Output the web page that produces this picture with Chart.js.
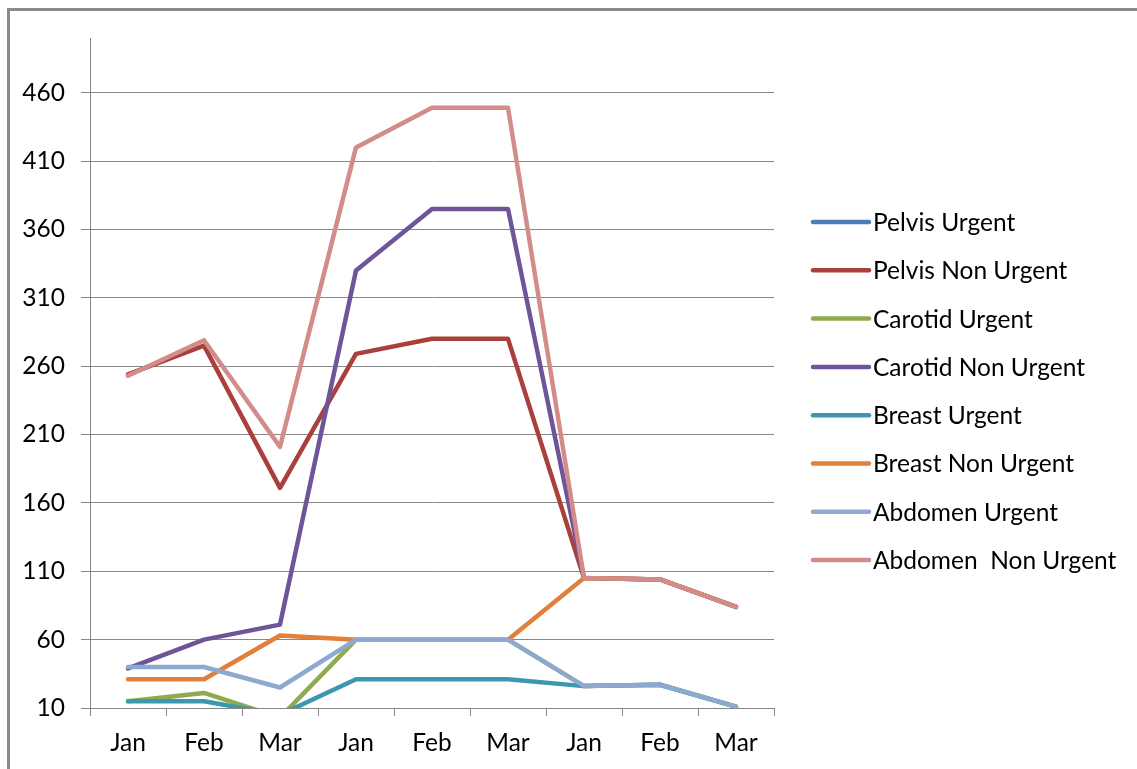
<!DOCTYPE html>
<html>
<head>
<meta charset="utf-8">
<script src="https://cdn.jsdelivr.net/npm/chart.js@4.4.1/dist/chart.umd.min.js"></script>
<style>
  html, body { margin: 0; padding: 0; background: #ffffff; overflow: hidden; }
  #wrap { position: relative; width: 1137px; height: 769px; overflow: hidden; }
  #wrap canvas { position: absolute; left: 0; top: 0; }
  /* outer chart frame: only its top and left edges fall inside the window */
  #frame {
    position: absolute; left: 7px; top: 8px; width: 1300px; height: 900px;
    border-top: 3px solid #8a8a8a; border-left: 3px solid #8a8a8a;
    pointer-events: none;
  }
</style>
</head>
<body>
<div id="wrap">
  <canvas id="chart" width="1137" height="769"></canvas>
  <div id="frame"></div>
</div>
<script>
// Categories along the x axis (three quarters of monthly figures)
const months = ['Jan', 'Feb', 'Mar', 'Jan', 'Feb', 'Mar', 'Jan', 'Feb', 'Mar'];

// Series names
const seriesNames = [
  'Pelvis Urgent',
  'Pelvis Non Urgent',
  'Carotid Urgent',
  'Carotid Non Urgent',
  'Breast Urgent',
  'Breast Non Urgent',
  'Abdomen Urgent',
  'Abdomen  Non Urgent'
];

// Series values
const pelvisUrgent      = [0, 0, 0, 0, 0, 0, 0, 0, 0];
const pelvisNonUrgent   = [254, 275, 171, 269, 280, 280, 105, 104, 84];
const carotidUrgent     = [15, 21, 3, 60, 60, 60, 26, 27, 11];
const carotidNonUrgent  = [39, 60, 71, 330, 375, 375, 105, 104, 84];
const breastUrgent      = [15, 15, 5, 31, 31, 31, 26, 27, 11];
const breastNonUrgent   = [31, 31, 63, 60, 60, 60, 105, 104, 84];
const abdomenUrgent     = [40, 40, 25, 60, 60, 60, 26, 27, 11];
const abdomenNonUrgent  = [253, 279, 201, 420, 449, 449, 105, 104, 84];

// Value axis: range and labelled ticks
const yMin = 10;
const yMax = 500;
const yTickValues = [10, 60, 110, 160, 210, 260, 310, 360, 410, 460];

const seriesValues = [
  pelvisUrgent, pelvisNonUrgent, carotidUrgent, carotidNonUrgent,
  breastUrgent, breastNonUrgent, abdomenUrgent, abdomenNonUrgent
];
const seriesColors = [
  '#4a7ebb', '#a9403c', '#8eab50', '#6e5597',
  '#3d97af', '#e1803a', '#8ea9cf', '#d28c8a'
];

const FONT = 'Lato, "Liberation Sans", sans-serif';
const GRID = '#878787';

// Legend drawn as a column of short line swatches beside the plot
const sideLegend = {
  id: 'sideLegend',
  afterDraw(chart, args, opts) {
    const ctx = chart.ctx;
    ctx.save();
    ctx.font = opts.fontSize + 'px ' + FONT;
    ctx.textBaseline = 'middle';
    ctx.textAlign = 'left';
    chart.data.datasets.forEach((ds, i) => {
      const y = opts.top + i * opts.spacing;
      ctx.strokeStyle = ds.borderColor;
      ctx.lineWidth = opts.lineWidth;
      ctx.lineCap = 'round';
      ctx.beginPath();
      ctx.moveTo(opts.x, y);
      ctx.lineTo(opts.x + opts.swatch, y);
      ctx.stroke();
      ctx.fillStyle = '#000000';
      ctx.fillText(ds.label, opts.x + opts.swatch + opts.gap, y + opts.textShift);
    });
    ctx.restore();
  }
};

const datasets = seriesNames.map((name, i) => ({
  label: name,
  data: seriesValues[i],
  borderColor: seriesColors[i],
  backgroundColor: seriesColors[i],
  borderWidth: 4.5,
  borderJoinStyle: 'round',
  borderCapStyle: 'round',
  pointRadius: 0,
  pointHoverRadius: 0,
  tension: 0,
  fill: false,
  // later series are painted over earlier ones
  order: seriesNames.length - i
}));

new Chart(document.getElementById('chart'), {
  type: 'line',
  data: { labels: months, datasets },
  plugins: [sideLegend],
  options: {
    responsive: false,
    animation: false,
    devicePixelRatio: 1,
    layout: { padding: { top: 38, right: 363, bottom: 0, left: 0 } },
    plugins: {
      legend: { display: false },
      tooltip: { enabled: false },
      sideLegend: {
        x: 813, top: 222, spacing: 48.3, swatch: 56, gap: 4,
        lineWidth: 4.5, fontSize: 24.5, textShift: 1
      }
    },
    scales: {
      x: {
        type: 'category',
        offset: true,
        grid: {
          offset: true,
          drawOnChartArea: false,
          drawTicks: true,
          tickLength: 8,
          color: GRID,
          lineWidth: 1
        },
        border: { display: true, color: GRID, width: 1 },
        ticks: {
          color: '#000000',
          font: { family: FONT, size: 24.5 },
          padding: 12,
          maxRotation: 0,
          autoSkip: false
        },
        afterFit(scale) { scale.height = 61; }
      },
      y: {
        type: 'linear',
        min: yMin,
        max: yMax,
        grid: {
          drawTicks: true,
          tickLength: 9,
          color: GRID,
          lineWidth: 1
        },
        border: { display: true, color: GRID, width: 1 },
        ticks: {
          color: '#000000',
          font: { family: FONT, size: 24.5 },
          padding: 16
        },
        afterBuildTicks(scale) {
          scale.ticks = yTickValues.map(v => ({ value: v }));
        },
        afterFit(scale) { scale.width = 90; }
      }
    }
  }
});
</script>
</body>
</html>
